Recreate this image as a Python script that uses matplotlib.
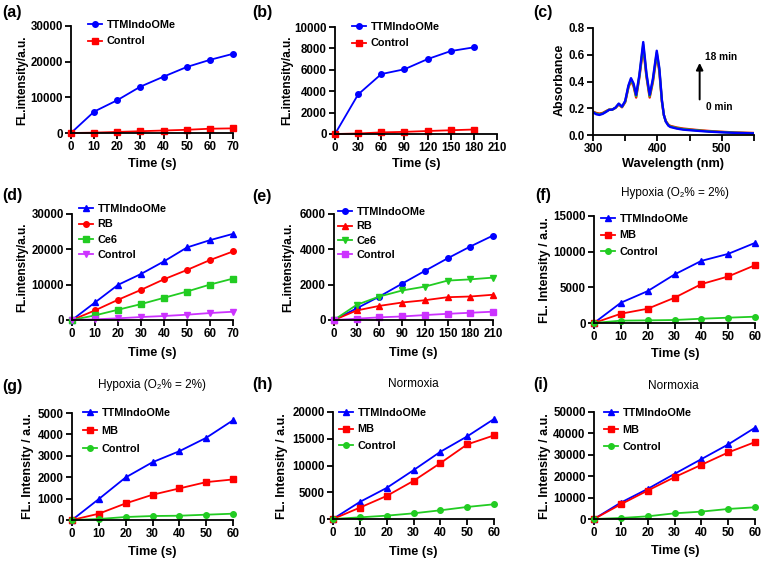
import matplotlib
matplotlib.use("Agg")
import matplotlib.pyplot as plt

plt.rcParams['font.family'] = ['Liberation Sans', 'DejaVu Sans']
plt.rcParams['font.weight'] = 'bold'
plt.rcParams['axes.labelweight'] = 'bold'

W, H = 763, 561

BLUE = '#0000FF'
RED = '#FF0000'
GREEN = '#22CC22'
PURPLE = '#CC33FF'

# (a)
t_a = [0, 10, 20, 30, 40, 50, 60, 70]
ttm_a = [0, 6000, 9200, 13000, 15800, 18500, 20500, 22200]
ctrl_a = [0, 100, 300, 500, 700, 900, 1200, 1300]

# (b)
t_b = [0, 30, 60, 90, 120, 150, 180]
ttm_b = [0, 3700, 5600, 6050, 7000, 7750, 8100]
ctrl_b = [0, 50, 150, 200, 280, 350, 420]

# (c) absorption spectra, 0 min -> 18 min
wl = [300, 305, 310, 315, 320, 325, 330, 335, 340, 345, 350, 355, 359, 363, 367, 372, 378,
      383, 388, 393, 399, 403, 407, 410, 413, 417, 420, 430, 440, 460, 480, 500, 520, 550]
abs_0 = [0.175, 0.165, 0.160, 0.165, 0.178, 0.190, 0.190, 0.203, 0.228, 0.207, 0.245, 0.355,
         0.405, 0.365, 0.280, 0.430, 0.655, 0.435, 0.280, 0.395, 0.600, 0.475, 0.250, 0.150,
         0.105, 0.078, 0.068, 0.056, 0.048, 0.038, 0.030, 0.024, 0.019, 0.015]
abs_9 = [0.172, 0.160, 0.155, 0.161, 0.175, 0.189, 0.190, 0.204, 0.232, 0.210, 0.250, 0.362,
         0.415, 0.375, 0.290, 0.440, 0.675, 0.448, 0.290, 0.408, 0.615, 0.488, 0.255, 0.150,
         0.102, 0.074, 0.064, 0.052, 0.044, 0.035, 0.027, 0.022, 0.017, 0.013]
abs_18 = [0.170, 0.155, 0.150, 0.158, 0.172, 0.188, 0.190, 0.205, 0.235, 0.212, 0.255, 0.370,
          0.425, 0.385, 0.300, 0.450, 0.695, 0.460, 0.300, 0.420, 0.630, 0.500, 0.260, 0.150,
          0.100, 0.070, 0.060, 0.048, 0.040, 0.032, 0.025, 0.020, 0.016, 0.012]

# (d)
t_d = [0, 10, 20, 30, 40, 50, 60, 70]
ttm_d = [0, 4970, 9940, 13030, 16600, 20530, 22600, 24380]
rb_d = [0, 2720, 5720, 8530, 11530, 14160, 16970, 19400]
ce6_d = [0, 1310, 2900, 4500, 6280, 8060, 10030, 11720]
ctrl_d = [0, 190, 470, 840, 1130, 1500, 1970, 2340]

# (e)
t_e = [0, 30, 60, 90, 120, 150, 180, 210]
ttm_e = [0, 660, 1330, 2060, 2780, 3490, 4160, 4780]
rb_e = [0, 540, 800, 990, 1120, 1290, 1330, 1430]
ce6_e = [0, 860, 1330, 1670, 1890, 2230, 2300, 2400]
ctrl_e = [0, 75, 150, 200, 280, 350, 410, 470]

# (f) hypoxia
t_f = [0, 10, 20, 30, 40, 50, 60]
ttm_f = [0, 2840, 4470, 6800, 8710, 9690, 11230]
mb_f = [0, 1300, 2000, 3540, 5450, 6520, 8100]
ctrl_f = [0, 330, 370, 420, 600, 745, 885]

# (g) hypoxia
ttm_g = [0, 980, 1990, 2700, 3215, 3840, 4660]
mb_g = [0, 295, 776, 1180, 1475, 1770, 1895]
ctrl_g = [0, 47, 140, 186, 200, 248, 295]

# (h) normoxia
ttm_h = [0, 3190, 5810, 9125, 12560, 15440, 18690]
mb_h = [0, 2125, 4310, 7125, 10440, 13940, 15625]
ctrl_h = [0, 310, 625, 1060, 1625, 2250, 2750]

# (i) normoxia
ttm_i = [0, 7660, 14060, 21090, 27970, 34840, 42660]
mb_i = [0, 6875, 13280, 19530, 25310, 31090, 35940]
ctrl_i = [0, 470, 1250, 2660, 3440, 4690, 5470]

fig = plt.figure(figsize=(W / 100, H / 100), dpi=100)


def px_axes(x0, y0, x1, y1):
    ax = fig.add_axes([x0 / W, 1 - y1 / H, (x1 - x0) / W, (y1 - y0) / H])
    for s in ['top', 'right']:
        ax.spines[s].set_visible(False)
    for s in ['left', 'bottom']:
        ax.spines[s].set_linewidth(1.3)
    ax.tick_params(which='both', direction='out', length=4, width=1.3, labelsize=8.3, pad=2)
    return ax


def labels(ax, xlabel, ylabel, xl, yl, ysize=9):
    ax.set_xlabel(xlabel, fontsize=9.2, va='center')
    ax.set_ylabel(ylabel, fontsize=ysize, va='center')
    ax.xaxis.set_label_coords(xl[0] / W, 1 - xl[1] / H, transform=fig.transFigure)
    ax.yaxis.set_label_coords(yl[0] / W, 1 - yl[1] / H, transform=fig.transFigure)


def line(ax, x, y, color, marker, label, ms=4):
    ax.plot(x, y, color=color, marker=marker, ms=ms, lw=1.3, label=label, clip_on=False)


def legend_at(ax, x, y, spacing):
    ax.legend(loc='upper left', bbox_to_anchor=(x / W, 1 - y / H), bbox_transform=fig.transFigure,
              frameon=False, fontsize=7.8, handlelength=1.25, handletextpad=0.45,
              labelspacing=spacing, borderpad=0, borderaxespad=0)


def panel(label, x, y):
    fig.text(x / W, 1 - y / H, label, fontsize=11.5, fontweight='bold', ha='left', va='center')


def title(text, x, y):
    fig.text(x / W, 1 - y / H, text, fontsize=8.5, fontweight='normal', ha='center', va='center')


# (a)
ax = px_axes(71, 26, 233, 133)
line(ax, t_a, ttm_a, BLUE, 'o', 'TTMIndoOMe')
line(ax, t_a, ctrl_a, RED, 's', 'Control', ms=3.7)
ax.set_xlim(0, 70)
ax.set_ylim(0, 30000)
ax.set_xticks(t_a)
ax.set_yticks([0, 10000, 20000, 30000])
labels(ax, 'Time (s)', 'FL.intensity/a.u.', (152, 164), (22, 80), ysize=8.5)
legend_at(ax, 88, 20, 0.6)
panel('(a)', 2, 12)

# (b)
ax = px_axes(335, 27, 497, 134)
line(ax, t_b, ttm_b, BLUE, 'o', 'TTMIndoOMe')
line(ax, t_b, ctrl_b, RED, 's', 'Control', ms=3.7)
ax.set_xlim(0, 210)
ax.set_ylim(0, 10000)
ax.set_xticks([0, 30, 60, 90, 120, 150, 180, 210])
ax.set_yticks([0, 2000, 4000, 6000, 8000, 10000])
labels(ax, 'Time (s)', 'FL.intensity/a.u.', (416, 164), (287, 80), ysize=8.5)
legend_at(ax, 352, 22, 0.6)
panel('(b)', 252, 12)

# (c)
ax = px_axes(593, 28, 754, 135)
ax.plot(wl, abs_0, color=RED, lw=1.7)
ax.plot(wl, abs_9, color=GREEN, lw=1.7)
ax.plot(wl, abs_18, color=BLUE, lw=1.7)
ax.set_xlim(300, 550)
ax.set_ylim(0, 0.8)
ax.set_xticks([300, 400, 500])
ax.set_xticks([350, 450, 550], minor=True)
ax.set_yticks([0, 0.2, 0.4, 0.6, 0.8])
ax.set_yticklabels(['0.0', '0.2', '0.4', '0.6', '0.8'])
ax.annotate('', xy=(465.6, 0.56), xytext=(465.6, 0.245),
            arrowprops=dict(arrowstyle='-|>', color='black', lw=1.4, mutation_scale=10))
ax.text(474, 0.58, '18 min', fontsize=7.3, va='center', ha='left')
ax.text(476, 0.21, '0 min', fontsize=7.3, va='center', ha='left')
labels(ax, 'Wavelength (nm)', 'Absorbance', (673, 164), (560, 80))
panel('(c)', 533, 12)

# (d)
ax = px_axes(72, 214, 233, 320)
line(ax, t_d, ttm_d, BLUE, '^', 'TTMIndoOMe', ms=4.3)
line(ax, t_d, rb_d, RED, 'o', 'RB')
line(ax, t_d, ce6_d, GREEN, 's', 'Ce6', ms=3.7)
line(ax, t_d, ctrl_d, PURPLE, 'v', 'Control', ms=4.3)
ax.set_xlim(0, 70)
ax.set_ylim(0, 30000)
ax.set_xticks(t_d)
ax.set_yticks([0, 10000, 20000, 30000])
labels(ax, 'Time (s)', 'FL.intensity/a.u.', (152, 353), (22, 267), ysize=8.5)
legend_at(ax, 79, 204, 0.5)
panel('(d)', 2, 195)

# (e)
ax = px_axes(334, 214, 493, 320)
line(ax, t_e, ttm_e, BLUE, 'o', 'TTMIndoOMe')
line(ax, t_e, rb_e, RED, '^', 'RB', ms=4.3)
line(ax, t_e, ce6_e, GREEN, 'v', 'Ce6', ms=4.3)
line(ax, t_e, ctrl_e, PURPLE, 's', 'Control', ms=3.7)
ax.set_xlim(0, 210)
ax.set_ylim(0, 6000)
ax.set_xticks(t_e)
ax.set_yticks([0, 2000, 4000, 6000])
labels(ax, 'Time (s)', 'FL.intensity/a.u.', (413, 353), (288, 267), ysize=8.5)
legend_at(ax, 338, 207, 0.4)
panel('(e)', 252, 197)

# (f)
ax = px_axes(594, 216, 755, 323)
line(ax, t_f, ttm_f, BLUE, '^', 'TTMIndoOMe', ms=4.3)
line(ax, t_f, mb_f, RED, 's', 'MB', ms=3.7)
line(ax, t_f, ctrl_f, GREEN, 'o', 'Control')
ax.set_xlim(0, 60)
ax.set_ylim(0, 15000)
ax.set_xticks(t_f)
ax.set_yticks([0, 5000, 10000, 15000])
labels(ax, 'Time (s)', 'FL. Intensity / a.u.', (675, 354), (545, 270))
legend_at(ax, 601, 214, 0.6)
panel('(f)', 535, 195)
title('Hypoxia (O\u2082% = 2%)', 675, 193)

# (g)
ax = px_axes(72, 413, 233, 520)
line(ax, t_f, ttm_g, BLUE, '^', 'TTMIndoOMe', ms=4.3)
line(ax, t_f, mb_g, RED, 's', 'MB', ms=3.7)
line(ax, t_f, ctrl_g, GREEN, 'o', 'Control')
ax.set_xlim(0, 60)
ax.set_ylim(0, 5000)
ax.set_xticks(t_f)
ax.set_yticks([0, 1000, 2000, 3000, 4000, 5000])
labels(ax, 'Time (s)', 'FL. Intensity / a.u.', (152, 552), (28, 466))
legend_at(ax, 83, 408, 0.75)
panel('(g)', 2, 386)
title('Hypoxia (O\u2082% = 2%)', 152, 385)

# (h)
ax = px_axes(333, 412, 494, 519)
line(ax, t_f, ttm_h, BLUE, '^', 'TTMIndoOMe', ms=4.3)
line(ax, t_f, mb_h, RED, 's', 'MB', ms=3.7)
line(ax, t_f, ctrl_h, GREEN, 'o', 'Control')
ax.set_xlim(0, 60)
ax.set_ylim(0, 20000)
ax.set_xticks(t_f)
ax.set_yticks([0, 5000, 10000, 15000, 20000])
labels(ax, 'Time (s)', 'FL. Intensity / a.u.', (413, 552), (282, 466))
legend_at(ax, 339, 408, 0.6)
panel('(h)', 252, 385)
title('Normoxia', 413, 384)

# (i)
ax = px_axes(594, 412, 755, 519)
line(ax, t_f, ttm_i, BLUE, '^', 'TTMIndoOMe', ms=4.3)
line(ax, t_f, mb_i, RED, 's', 'MB', ms=3.7)
line(ax, t_f, ctrl_i, GREEN, 'o', 'Control')
ax.set_xlim(0, 60)
ax.set_ylim(0, 50000)
ax.set_xticks(t_f)
ax.set_yticks([0, 10000, 20000, 30000, 40000, 50000])
labels(ax, 'Time (s)', 'FL. Intensity / a.u.', (675, 551), (545, 466))
legend_at(ax, 604, 408, 0.65)
panel('(i)', 533, 385)
title('Normoxia', 673, 386)

fig.savefig('out.png', dpi=100)
